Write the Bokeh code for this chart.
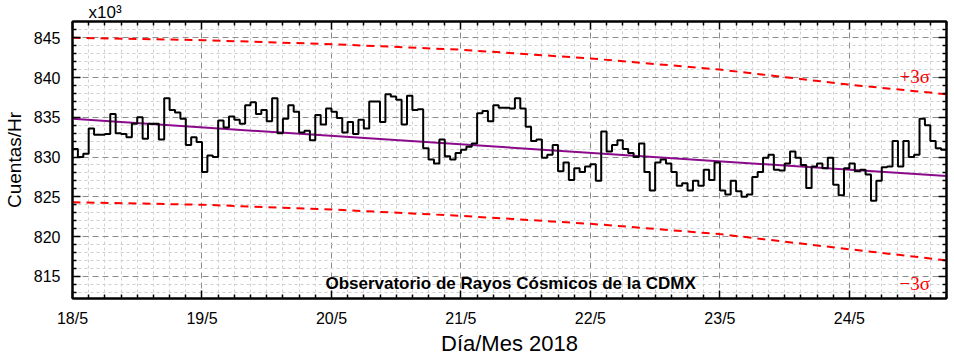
from bokeh.plotting import figure
from bokeh.models import Range1d, LinearAxis, FixedTicker, Label
from bokeh.embed import file_html
from bokeh.resources import INLINE

# hourly counts (x10^3 counts/hr), starting 18/5 00:00
counts = [
    831.0, 830.0, 830.4, 833.6, 832.8, 832.8, 832.9, 835.4, 833.0, 832.9,
    832.5, 834.2, 835.0, 832.3, 834.2, 834.2, 832.2, 837.4, 835.9, 835.6,
    834.8, 831.5, 832.5, 831.9, 828.1, 830.2, 830.0, 834.6, 833.7, 835.1,
    834.7, 834.2, 836.5, 836.9, 835.4, 835.9, 834.5, 837.4, 833.0, 834.8,
    836.5, 835.7, 833.1, 833.3, 832.1, 835.3, 834.1, 836.1, 835.7, 834.9,
    833.1, 834.4, 832.9, 834.7, 833.6, 837.0, 837.0, 834.4, 837.9, 837.6,
    837.2, 834.1, 837.7, 835.9, 836.0, 831.1, 829.7, 829.2, 832.2, 830.1,
    829.7, 830.5, 830.9, 831.3, 831.7, 835.5, 835.8, 834.5, 836.5, 836.2,
    836.2, 836.1, 837.4, 836.1, 833.8, 832.0, 832.2, 829.9, 830.3, 831.5,
    828.2, 829.3, 827.1, 828.6, 828.1, 828.8, 829.1, 827.0, 833.2, 830.7,
    831.5, 832.1, 831.0, 830.5, 830.0, 831.7, 828.1, 825.8, 829.3, 829.7,
    829.2, 828.1, 826.4, 826.7, 825.8, 827.0, 826.4, 828.4, 827.1, 829.3,
    825.8, 825.3, 827.0, 825.7, 825.0, 825.3, 827.5, 828.1, 829.9, 830.3,
    828.4, 828.3, 829.2, 830.7, 829.9, 829.0, 826.1, 828.8, 829.2, 828.6,
    829.9, 826.5, 825.2, 828.6, 829.2, 828.2, 828.4, 827.8, 824.5, 827.0,
    828.7, 828.8, 832.0, 828.8, 832.0, 830.0, 830.3, 834.8, 834.0, 832.0,
    831.1, 830.9,
]
hours = list(range(len(counts) + 1))
step_counts = counts + [counts[-1]]

day_ticks = [0, 24, 48, 72, 96, 120, 144]
day_labels = ["18/5", "19/5", "20/5", "21/5", "22/5", "23/5", "24/5"]
y_ticks = [815, 820, 825, 830, 835, 840, 845]

trend_hours = [0, 162]
trend_values = [834.8, 827.6]

band_hours = [0, 24, 48, 72, 96, 120, 144, 162]
upper_3s = [845.0, 844.7, 844.2, 843.5, 842.4, 841.0, 839.1, 837.9]
lower_3s = [824.3, 824.0, 823.4, 822.6, 821.6, 820.3, 818.4, 817.0]

title_text = "Observatorio de Rayos Cósmicos de la CDMX"
scale_text = "x10³"

FONT = "Liberation Sans"

p = figure(width=950, height=362, output_backend="svg", toolbar_location=None,
           x_range=Range1d(0, 162), y_range=Range1d(812.2, 847.05),
           min_border_left=70, min_border_right=4, min_border_top=19,
           min_border_bottom=64, background_fill_color="white",
           outline_line_color="black", outline_line_width=2)

p.title.text = scale_text
p.title.align = "left"
p.title.offset = 16
p.title.standoff = 0
p.title.text_font = FONT
p.title.text_font_size = "17px"
p.title.text_line_height = 0.9
p.title.text_font_style = "normal"
p.title.text_color = "black"

xt = FixedTicker(ticks=day_ticks, minor_ticks=[h for h in range(0, 163, 3) if h % 24])
yt = FixedTicker(ticks=y_ticks, minor_ticks=[v for v in range(813, 847) if v % 5])

# grids
for g, t in ((p.xgrid, xt), (p.ygrid, yt)):
    g.ticker = t
    g.grid_line_color = "#8c8c8c"
    g.grid_line_dash = "6 4"
    g.grid_line_width = 1
    g.minor_grid_line_color = "#d0d0d0"
    g.minor_grid_line_dash = "3 3"
    g.minor_grid_line_width = 1

def style_axis(ax, labels=True):
    ax.axis_line_width = 2
    ax.axis_line_color = "black"
    ax.major_tick_in = 8
    ax.major_tick_out = 0
    ax.minor_tick_in = 4
    ax.minor_tick_out = 0
    ax.major_tick_line_width = 1.5
    ax.minor_tick_line_width = 1.5
    ax.major_tick_line_color = "black"
    ax.minor_tick_line_color = "black"
    ax.major_label_text_font = FONT
    ax.major_label_text_font_size = "16px"
    ax.major_label_text_color = "black"
    ax.axis_label_text_font = FONT
    ax.axis_label_text_font_style = "normal"
    ax.axis_label_text_color = "black"
    if not labels:
        ax.major_label_standoff = 0

xa = p.xaxis[0]
xa.ticker = xt
xa.major_label_overrides = {t: l for t, l in zip(day_ticks, day_labels)}
style_axis(xa)
xa.major_label_standoff = 11
xa.axis_label = "Día/Mes 2018"
xa.axis_label_text_font_size = "22px"
xa.axis_label_standoff = 1

ya = p.yaxis[0]
ya.ticker = yt
style_axis(ya)
ya.major_label_standoff = 12
ya.axis_label = "Cuentas/Hr"
ya.axis_label_text_font_size = "19px"
ya.axis_label_standoff = 6

top = LinearAxis(ticker=xt, major_label_overrides={t: "" for t in day_ticks})
style_axis(top, labels=False)
p.add_layout(top, "above")
right = LinearAxis(ticker=yt, major_label_overrides={t: "" for t in y_ticks})
style_axis(right, labels=False)
p.add_layout(right, "right")

# data
p.line(band_hours, upper_3s, line_color="red", line_width=2, line_dash="8 6")
p.line(band_hours, lower_3s, line_color="red", line_width=2, line_dash="8 6")
p.line(trend_hours, trend_values, line_color="#8b0a8b", line_width=2)
p.step(hours, step_counts, mode="after", line_color="black", line_width=2)

p.add_layout(Label(x=156.1, y=840.1, text="+3σ", text_color="red",
                   text_font="Liberation Serif", text_font_size="19px",
                   text_align="center", text_baseline="middle"))
p.add_layout(Label(x=156.1, y=814.1, text="−3σ", text_color="red",
                   text_font="Liberation Serif", text_font_size="19px",
                   text_align="center", text_baseline="middle"))
p.add_layout(Label(x=81.2, y=814.1, text=title_text, text_color="black",
                   text_font=FONT, text_font_style="bold", text_font_size="17px",
                   text_align="center", text_baseline="middle"))

open("out.html", "w").write(file_html(p, INLINE))
